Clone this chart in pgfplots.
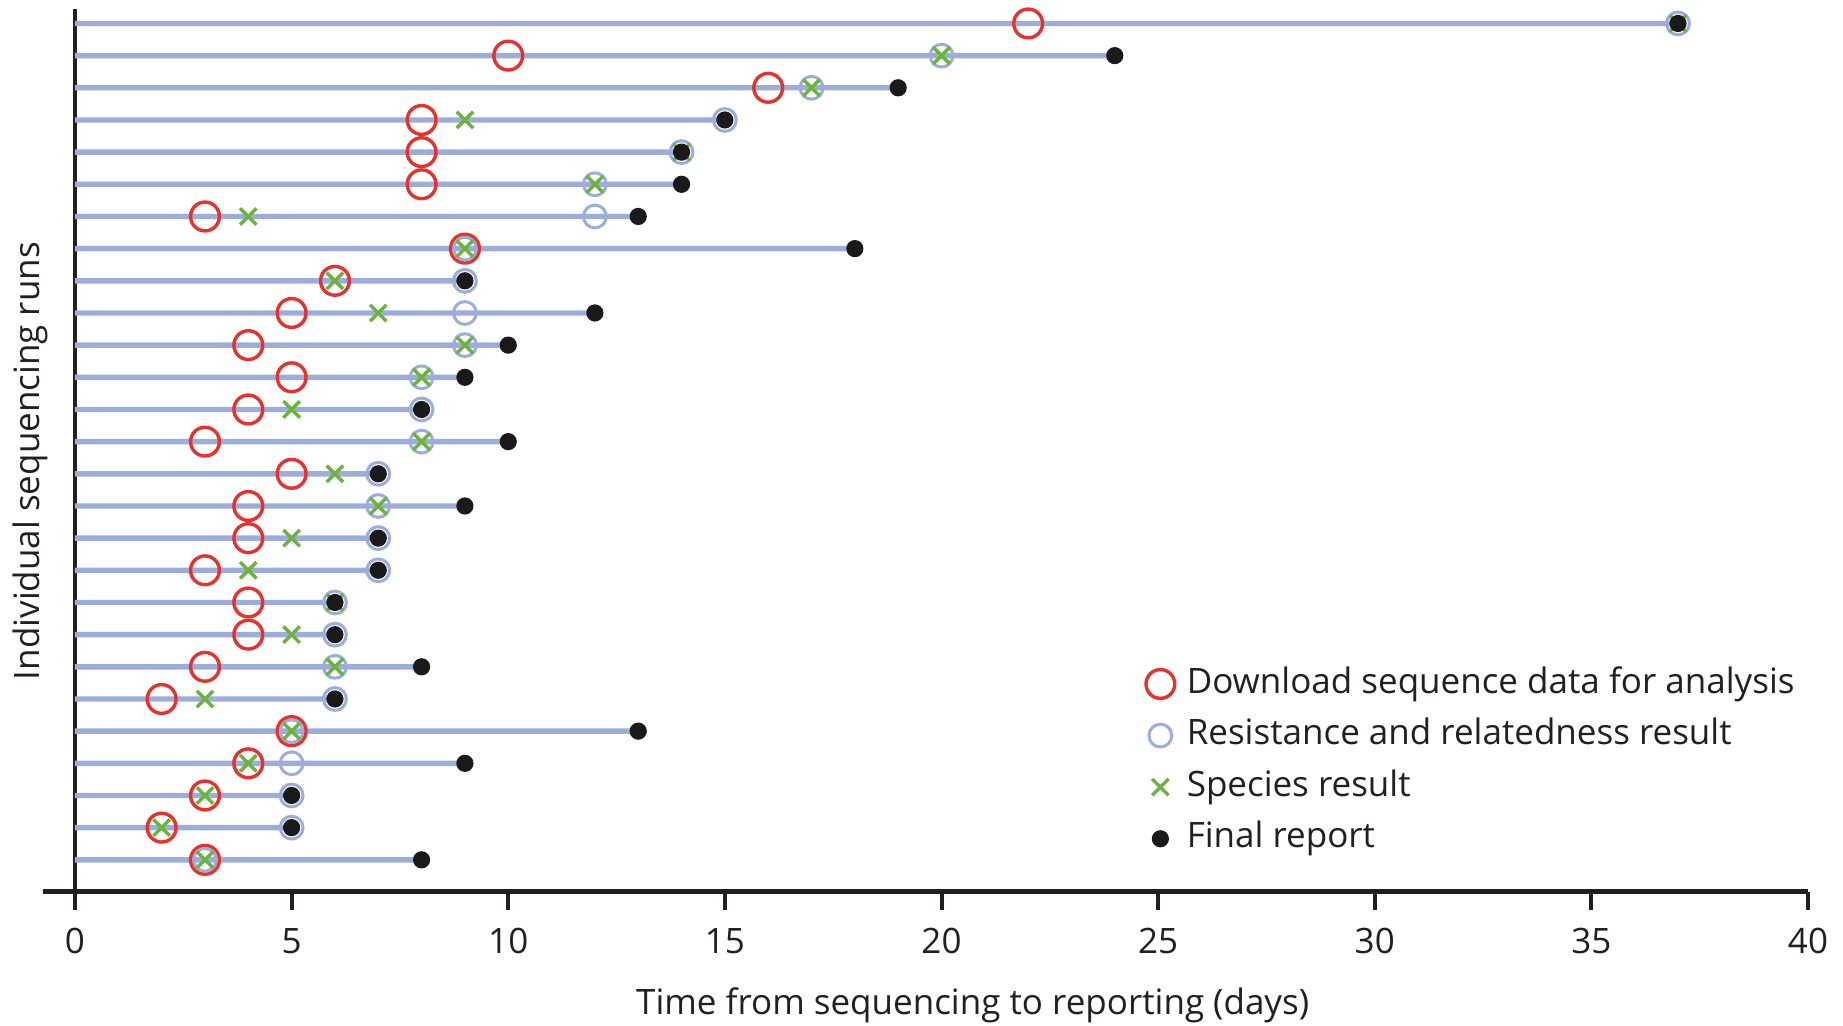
\documentclass[border=0pt]{standalone}
\usepackage{fontspec}
\setmainfont{Open Sans}
\usepackage{pgfplots}
\pgfplotsset{compat=1.18}
\usepackage{pgfplotstable}
\definecolor{dred}{HTML}{E8302C}
\definecolor{rblue}{HTML}{9DADD9}
\definecolor{sgreen}{HTML}{6BB23F}
\definecolor{fblack}{HTML}{1A1A1A}
\definecolor{axisc}{HTML}{231F20}

% Y = run (27 = top), D = download, R = resistance/relatedness, S = species, F = final report
\pgfplotstableread{
Y D R S F
27 22 37 37 37
26 10 20 20 24
25 16 17 17 19
24 8 15 9 15
23 8 14 14 14
22 8 12 12 14
21 3 12 4 13
20 9 9 9 18
19 6 9 6 9
18 5 9 7 12
17 4 9 9 10
16 5 8 8 9
15 4 8 5 8
14 3 8 8 10
13 5 7 6 7
12 4 7 7 9
11 4 7 5 7
10 3 7 4 7
9 4 6 6 6
8 4 6 5 6
7 3 6 6 8
6 2 6 3 6
5 5 5 5 13
4 4 5 4 9
3 3 5 3 5
2 2 5 2 5
1 3 3 3 8
}\runs

\begin{document}
\fontsize{8.75pt}{10.5pt}\selectfont
\begin{tikzpicture}
\useasboundingbox (0,0) rectangle (460.75pt,256.5pt);
\begin{axis}[
  at={(18.75pt,33.5pt)}, anchor=south west,
  scale only axis, width=433.25pt, height=220.75pt,
  xmin=0, xmax=40, ymin=0, ymax=27.45,
  axis x line*=bottom, axis y line*=left,
  x axis line style={line width=1.25pt, color=axisc},
  y axis line style={line width=0.9pt, color=axisc},
  xtick={0,5,...,40}, ytick=\empty,
  xtick align=outside, major tick length=4.5pt,
  xtick style={line width=1pt, color=axisc},
  /pgf/number format/assume math mode=true,
  xticklabel style={inner sep=0pt, anchor=north, yshift=-4.4pt, text=axisc},
  clip=false,
  xlabel={Time from sequencing to reporting (days)},
  ylabel={Individual sequencing runs},
  every axis x label/.style={at={(axis description cs:0.518,0)}, anchor=base, yshift=-30.75pt, inner sep=0pt, text=axisc},
  every axis y label/.style={at={([xshift=-6.5pt]axis description cs:0,0.488)}, rotate=90, anchor=south, inner sep=0pt, text=axisc},
  legend style={draw=none, fill=none, inner sep=0pt, outer sep=0pt,
    at={(axis description cs:0.618,0.2596)}, anchor=north west,
    row sep=2.3pt, column sep=2pt,
    nodes={inner sep=1pt, text height=6.6pt, text depth=2pt, text=axisc}},
  legend cell align=left,
  legend image code/.code={\draw[mark repeat=2,mark phase=2,#1] plot coordinates {(0pt,0pt) (3pt,0pt) (6pt,0pt)};},
]
\addplot[xbar, bar width=1.35pt, fill=rblue, draw=none, forget plot] table[x=F, y=Y] {\runs};
\addplot[only marks, mark=o, mark size=3.6pt, mark options={draw=dred, line width=0.85pt}] table[x=D, y=Y] {\runs};
\addlegendentry{Download sequence data for analysis}
\addplot[only marks, mark=o, mark size=2.85pt, mark options={draw=rblue, line width=0.75pt}] table[x=R, y=Y] {\runs};
\addlegendentry{Resistance and relatedness result}
\addplot[only marks, mark=x, mark size=2.9pt, mark options={draw=sgreen, line width=0.85pt}] table[x=S, y=Y] {\runs};
\addlegendentry{Species result}
\addplot[only marks, mark=*, mark size=1.95pt, mark options={draw=fblack, fill=fblack}] table[x=F, y=Y] {\runs};
\addlegendentry{Final report}
\draw[line width=1.25pt, axisc] (axis cs:0,0) -- ++(-7.9pt,0pt);
\end{axis}
\end{tikzpicture}
\end{document}
